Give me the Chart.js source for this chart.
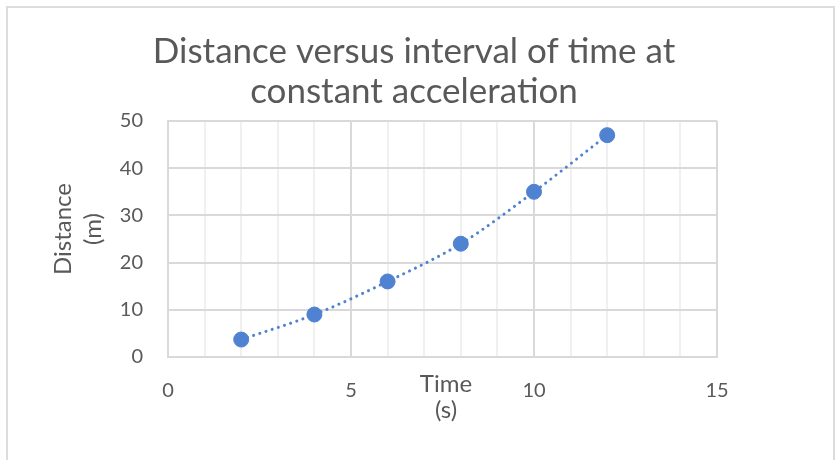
<!DOCTYPE html>
<html>
<head>
<meta charset="utf-8">
<script src="https://cdn.jsdelivr.net/npm/chart.js@4/dist/chart.umd.min.js"></script>
<style>
  html, body { margin: 0; padding: 0; background: #fff; }
  #wrap { width: 835px; height: 460px; }
</style>
</head>
<body>
<div id="wrap"><canvas id="chart"></canvas></div>
<script>
const times = [2, 4, 6, 8, 10, 12];
const distances = [3.7, 9, 16, 24, 35, 47];
const xLabelTicks = [0, 5, 10, 15];
const titleLines = ['Distance versus interval of time at', 'constant acceleration'];
const xTitleLines = ['Time', '(s)'];
const yTitleLines = ['Distance', '(m)'];

const textColor = '#595959';
const pointBlue = '#4f83d1';
const majorGrid = '#d9d9d9';
const minorGrid = '#f0f0f0';
const FONT = 'Lato, "Open Sans", sans-serif';

// light frame round the chart, the chart title and the two axis titles
const framePlugin = {
  id: 'frame',
  beforeDraw(chart) {
    const ctx = chart.ctx;
    ctx.save();
    ctx.fillStyle = '#fff';
    ctx.fillRect(0, 0, chart.width, chart.height);
    ctx.strokeStyle = '#dcdcdc';
    ctx.lineWidth = 2;
    ctx.strokeRect(7, 7, 827, chart.height + 10);
    ctx.restore();
  },
  afterDraw(chart) {
    const ctx = chart.ctx;
    ctx.save();
    ctx.fillStyle = textColor;
    ctx.textAlign = 'center';
    ctx.textBaseline = 'middle';
    // title, centred on the whole frame rather than the plot
    ctx.font = '35px ' + FONT;
    titleLines.forEach((t, i) => ctx.fillText(t, 414, 52 + i * 40));
    ctx.font = '24px ' + FONT;
    // x title sits in the tick-label band, under the middle of the plot
    xTitleLines.forEach((t, i) => ctx.fillText(t, 446, 384 + i * 26));
    // y title, rotated, two lines side by side
    ctx.translate(0, 229);
    ctx.rotate(-Math.PI / 2);
    yTitleLines.forEach((t, i) => ctx.fillText(t, 0, 63 + i * 30));
    ctx.restore();
  }
};

new Chart(document.getElementById('chart'), {
  type: 'scatter',
  data: {
    datasets: [{
      label: 'Distance',
      data: times.map((t, i) => ({ x: t, y: distances[i] })),
      showLine: true,
      borderColor: pointBlue,
      borderWidth: 3,
      borderDash: [0.1, 6.4],
      borderCapStyle: 'round',
      cubicInterpolationMode: 'monotone',
      pointBackgroundColor: pointBlue,
      pointBorderColor: pointBlue,
      pointBorderWidth: 1,
      pointRadius: 7.5
    }]
  },
  options: {
    responsive: true,
    maintainAspectRatio: false,
    animation: false,
    layout: { padding: { top: 121, left: 0, right: 118, bottom: 0 } },
    plugins: {
      legend: { display: false },
      tooltip: { enabled: false },
      title: { display: false }
    },
    scales: {
      x: {
        type: 'linear',
        min: 0,
        max: 15,
        afterFit: s => { s.height = 103; },
        ticks: {
          stepSize: 1,
          autoSkip: false,
          maxRotation: 0,
          padding: 22,
          color: textColor,
          font: { family: FONT, size: 20 },
          callback: v => (xLabelTicks.includes(v) ? String(v) : '')
        },
        grid: {
          drawTicks: false,
          lineWidth: 2,
          color: c => (c.tick && xLabelTicks.includes(c.tick.value) ? majorGrid : minorGrid)
        },
        border: { color: majorGrid, width: 2 }
      },
      y: {
        min: 0,
        max: 50,
        afterFit: s => { s.width = 168; },
        ticks: {
          stepSize: 10,
          padding: 25,
          color: textColor,
          font: { family: FONT, size: 20 }
        },
        grid: { drawTicks: false, lineWidth: 2, color: majorGrid },
        border: { color: majorGrid, width: 2 }
      }
    }
  },
  plugins: [framePlugin]
});
</script>
</body>
</html>
